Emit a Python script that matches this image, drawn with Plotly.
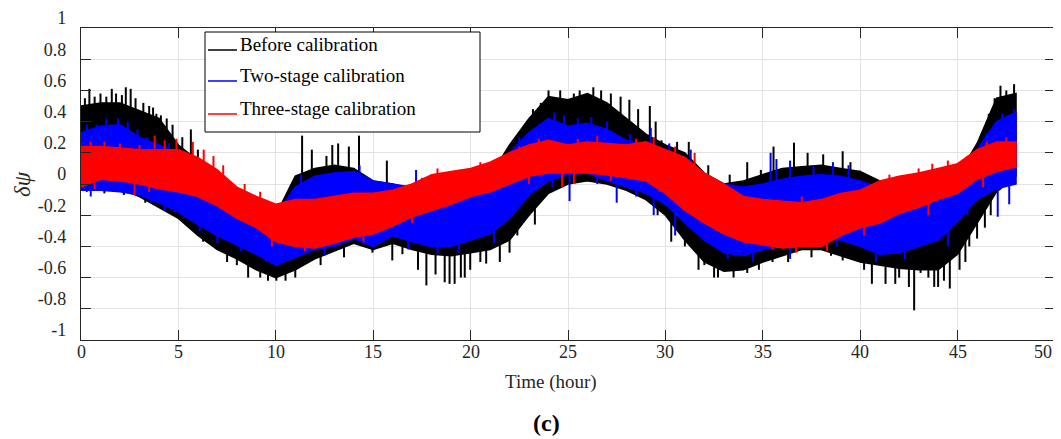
import numpy as np
import plotly.graph_objects as go

# ---------------- data ----------------
hours = list(range(0, 49))

before_upper = [0.50, 0.52, 0.52, 0.47, 0.42, 0.25, 0.15, 0.02, -0.08, -0.15,
                -0.20, 0.05, 0.10, 0.12, 0.10, 0.02, 0.00, -0.03, -0.06, -0.03,
                0.00, 0.05, 0.25, 0.42, 0.56, 0.54, 0.58, 0.52, 0.42, 0.32,
                0.25, 0.20, 0.07, 0.00, 0.02, 0.06, 0.10, 0.11, 0.12, 0.10,
                0.08, 0.02, 0.00, 0.00, 0.00, 0.05, 0.26, 0.55, 0.58]
before_lower = [0.00, -0.02, -0.03, -0.08, -0.15, -0.22, -0.33, -0.42, -0.48, -0.55,
                -0.60, -0.55, -0.48, -0.43, -0.38, -0.42, -0.38, -0.42, -0.45, -0.46,
                -0.44, -0.42, -0.36, -0.20, -0.06, 0.00, 0.02, 0.00, -0.04, -0.10,
                -0.20, -0.36, -0.50, -0.56, -0.55, -0.50, -0.46, -0.42, -0.42, -0.46,
                -0.50, -0.52, -0.54, -0.55, -0.55, -0.45, -0.25, -0.05, 0.05]

two_upper = [0.33, 0.37, 0.38, 0.30, 0.25, 0.20, 0.10, 0.00, -0.10, -0.18,
             -0.20, -0.02, 0.05, 0.07, 0.08, 0.02, 0.00, -0.02, 0.03, 0.06,
             0.06, 0.10, 0.20, 0.33, 0.42, 0.37, 0.39, 0.35, 0.28, 0.25,
             0.22, 0.17, 0.06, 0.00, -0.02, 0.00, 0.03, 0.05, 0.06, 0.05,
             0.02, -0.02, -0.07, -0.08, -0.06, -0.02, 0.22, 0.40, 0.46]
two_lower = [-0.04, -0.04, -0.05, -0.07, -0.12, -0.18, -0.26, -0.33, -0.39, -0.45,
             -0.52, -0.47, -0.42, -0.40, -0.35, -0.40, -0.33, -0.37, -0.40, -0.40,
             -0.36, -0.32, -0.22, -0.07, 0.02, 0.06, 0.07, 0.02, -0.02, -0.06,
             -0.13, -0.25, -0.36, -0.44, -0.46, -0.42, -0.40, -0.36, -0.32, -0.36,
             -0.40, -0.45, -0.44, -0.40, -0.36, -0.24, -0.10, -0.03, 0.00]

three_upper = [0.24, 0.24, 0.23, 0.22, 0.22, 0.22, 0.17, 0.09, -0.02, -0.08,
               -0.13, -0.10, -0.10, -0.08, -0.06, -0.06, -0.04, 0.00, 0.06, 0.08,
               0.10, 0.14, 0.20, 0.25, 0.28, 0.25, 0.27, 0.26, 0.25, 0.27,
               0.22, 0.17, 0.07, 0.00, -0.08, -0.10, -0.11, -0.12, -0.10, -0.06,
               -0.04, 0.02, 0.05, 0.07, 0.10, 0.13, 0.22, 0.27, 0.27]
three_lower = [-0.02, 0.03, 0.02, 0.00, -0.03, -0.05, -0.08, -0.14, -0.22, -0.28,
               -0.37, -0.40, -0.41, -0.38, -0.34, -0.32, -0.27, -0.21, -0.17, -0.13,
               -0.08, -0.05, 0.00, 0.05, 0.07, 0.07, 0.07, 0.06, 0.04, 0.02,
               -0.06, -0.17, -0.25, -0.32, -0.37, -0.39, -0.41, -0.40, -0.40, -0.33,
               -0.28, -0.25, -0.19, -0.15, -0.10, -0.06, 0.03, 0.08, 0.11]

# isolated spikes (time in hours, tip value)
before_spike_t = [0.43, 1.58, 2.3, 2.55, 3.7, 3.87, 5.64, 11.35, 11.85, 12.6, 12.9, 13.2,
                  13.75, 14.27, 15.7, 27.7, 28.15, 29.2, 29.8, 31.2, 34.2, 34.9, 35.55,
                  36.6, 37.3, 38.1, 39.1, 39.5, 39.97, 47.2, 47.9,
                  0.2, 0.7, 1.0, 1.3, 1.8, 2.1, 2.8, 3.2, 3.5, 4.1, 4.4, 4.7, 5.2, 6.0,
                  6.6, 7.2, 23.2, 23.6, 24.0, 24.6, 25.3, 25.6, 26.3, 26.7, 27.2, 28.6,
                  29.5, 30.6, 32.2, 33.3, 46.2, 46.6, 46.9, 47.5,
                  5.5, 6.27, 6.45, 8.58, 9.2, 10.03, 11.78, 14.96, 15.98, 17.3, 17.73,
                  18.67, 18.92, 19.18, 19.7, 19.98, 20.5, 20.8, 22.0, 22.4, 22.85, 30.3,
                  31.7, 32.5, 32.7, 33.5, 34.2, 37.5, 39.1, 40.6, 41.3, 41.8, 42.5,
                  42.77, 43.1, 43.8, 44.0, 44.6, 45.1, 45.6, 46.4,
                  0.3, 1.2, 2.2, 3.3, 7.5, 8.0, 9.6, 10.5, 11.0, 12.3, 13.5, 16.5, 18.2,
                  19.5, 21.5, 23.3, 29.6, 31.0, 32.0, 34.8, 35.5, 36.3, 38.5, 40.2, 42.0,
                  43.5, 44.3, 45.4, 46.0, 46.7]
before_spike_v = [0.61, 0.61, 0.62, 0.61, 0.49, 0.45, 0.35, 0.31, 0.22, 0.18, 0.25, 0.26,
                  0.24, 0.31, 0.15, 0.56, 0.54, 0.50, 0.28, 0.27, 0.14, 0.09, 0.24,
                  0.265, 0.20, 0.19, 0.21, 0.14, 0.085, 0.63, 0.64,
                  0.55, 0.56, 0.58, 0.56, 0.58, 0.57, 0.55, 0.52, 0.50, 0.44, 0.42, 0.38,
                  0.30, 0.22, 0.12, 0.05, 0.48, 0.52, 0.60, 0.60, 0.58, 0.60, 0.62, 0.60,
                  0.58, 0.48, 0.40, 0.27, 0.12, 0.06, 0.32, 0.45, 0.55, 0.60,
                  -0.26, -0.37, -0.36, -0.60, -0.60, -0.62, -0.49, -0.44, -0.49, -0.55, -0.65,
                  -0.63, -0.64, -0.64, -0.60, -0.55, -0.50, -0.51, -0.44, -0.33, -0.21, -0.37,
                  -0.55, -0.60, -0.60, -0.60, -0.57, -0.47, -0.49, -0.64, -0.64, -0.64, -0.66,
                  -0.81, -0.57, -0.66, -0.66, -0.67, -0.55, -0.40, -0.28,
                  -0.05, -0.06, -0.07, -0.12, -0.50, -0.52, -0.62, -0.62, -0.60, -0.52,
                  -0.47, -0.45, -0.58, -0.60, -0.50, -0.26, -0.20, -0.40, -0.52, -0.55,
                  -0.50, -0.50, -0.46, -0.55, -0.60, -0.60, -0.62, -0.50, -0.35, -0.20]

two_spike_t = [1.9, 11.3, 14.3, 17.2, 24.3, 29.25, 35.4, 35.7, 36.4,
               0.3, 0.8, 1.3, 2.4, 2.9, 3.4, 4.5, 22.5, 23.5, 24.8, 25.5, 26.2, 27.0,
               28.2, 30.2, 31.3, 37.6, 38.6, 39.4, 46.5, 47.3, 47.9,
               1.9, 2.86, 4.3, 4.8, 6.1, 25.08, 27.5, 29.4, 30.5, 36.4, 47.06, 47.65,
               0.5, 3.6, 5.3, 7.0, 8.2, 9.5, 12.5, 16.8, 18.3, 19.4, 21.2, 24.2, 26.5,
               28.5, 31.8, 33.2, 34.5, 38.8, 40.8, 42.3, 44.5, 45.5]
two_spike_v = [0.42, 0.06, 0.12, 0.09, 0.46, 0.36, 0.20, 0.16, 0.15,
               0.38, 0.38, 0.42, 0.40, 0.35, 0.30, 0.26, 0.30, 0.38, 0.44, 0.42, 0.43, 0.40,
               0.32, 0.26, 0.22, 0.12, 0.14, 0.12, 0.32, 0.45, 0.48,
               -0.05, -0.06, -0.17, -0.18, -0.30, -0.11, -0.12, -0.20, -0.33, -0.48, -0.21, -0.13,
               -0.08, -0.12, -0.22, -0.38, -0.43, -0.50, -0.46, -0.42, -0.45, -0.44, -0.38,
               -0.02, 0.00, -0.08, -0.33, -0.48, -0.50, -0.40, -0.50, -0.48, -0.40, -0.20]

three_spike_t = [3.78, 5.74, 29.4, 43.7,
                 0.5, 1.2, 2.0, 3.0, 4.3, 4.9, 6.3, 6.8, 7.3, 8.4, 9.2, 17.5, 18.3, 20.5,
                 22.5, 23.5, 25.5, 26.5, 28.5, 30.5, 31.5, 37.0, 41.5, 43.0, 44.5, 45.5,
                 46.5, 47.5,
                 2.75, 24.7, 0.7, 3.5, 9.8, 11.5, 14.5, 17.0, 23.0, 25.3, 27.2, 29.7,
                 32.6, 35.5, 36.7, 38.3, 40.2, 43.5, 46.3]
three_spike_v = [0.31, 0.27, 0.30, 0.13,
                 0.27, 0.27, 0.26, 0.25, 0.28, 0.29, 0.22, 0.18, 0.12, 0.00, -0.05, 0.04,
                 0.10, 0.14, 0.24, 0.29, 0.29, 0.31, 0.29, 0.24, 0.20, -0.08, 0.06, 0.10,
                 0.15, 0.18, 0.27, 0.30,
                 -0.07, -0.02, -0.03, -0.05, -0.40, -0.43, -0.37, -0.25, 0.00, 0.00, 0.02,
                 -0.05, -0.30, -0.42, -0.44, -0.43, -0.33, -0.20, -0.02]

series_names = ["Before calibration", "Two-stage calibration", "Three-stage calibration"]
series_colors = ["#000000", "#0000ff", "#ff0000"]

x_ticks = [0, 5, 10, 15, 20, 25, 30, 35, 40, 45, 50]
x_ticktext = ["0", "5", "10", "15", "20", "25", "30", "35", "40", "45", "50"]
y_ticks = [-1, -0.8, -0.6, -0.4, -0.2, 0, 0.2, 0.4, 0.6, 0.8, 1]
y_ticktext = ["-1", "-0.8", "-0.6", "-0.4", "-0.2", "0", "0.2", "0.4", "0.6", "0.8", "1"]

# ---------------- figure ----------------
fig = go.Figure()
FONT = "Liberation Serif"
TXT = "#262626"

bands = [(before_upper, before_lower, before_spike_t, before_spike_v),
         (two_upper, two_lower, two_spike_t, two_spike_v),
         (three_upper, three_lower, three_spike_t, three_spike_v)]

t_arr = np.array(hours, dtype=float)
for (up, lo, st, sv), name, col in zip(bands, series_names, series_colors):
    up = np.array(up)
    lo = np.array(lo)
    fig.add_trace(go.Scatter(
        x=list(t_arr) + list(t_arr[::-1]),
        y=list(up) + list(lo[::-1]),
        fill="toself", fillcolor=col, mode="lines",
        line=dict(color=col, width=1.5), showlegend=False, hoverinfo="skip"))
    mid = (up + lo) / 2.0
    xs, ys = [], []
    for t, v in zip(st, sv):
        base = float(np.interp(t, t_arr, mid))
        xs += [t, t, None]
        ys += [base, v, None]
    fig.add_trace(go.Scatter(x=xs, y=ys, mode="lines",
                             line=dict(color=col, width=2),
                             showlegend=False, hoverinfo="skip"))

# page offset: the html body adds an 8 px margin at the top-left
OFF = 8
W, H = 1061 - OFF, 439 - OFF
# plot-area edges in screen pixels
L, R, T, B = 81, 1055, 28, 340
def px(x):
    return (x - L) / (R - L)
def py(y):
    return (B - y) / (B - T)

shapes = [dict(type="rect", xref="paper", yref="paper",
               x0=px(205), x1=px(480), y0=py(132), y1=py(32),
               line=dict(color="#000000", width=1), fillcolor="white", layer="above")]
annotations = []
rows = [50, 81, 114]
for name, col, yb in zip(series_names, series_colors, rows):
    shapes.append(dict(type="line", xref="paper", yref="paper",
                       x0=px(208), x1=px(237), y0=py(yb), y1=py(yb),
                       line=dict(color=col, width=1.5), layer="above"))
    annotations.append(dict(text=name, xref="paper", yref="paper",
                            x=px(238), y=py(yb - 6), xanchor="left", yanchor="middle",
                            showarrow=False, font=dict(family=FONT, size=19, color="#000000")))

# x tick labels (placed on the x scale; last one nudged to stay inside the page)
for v, lab in zip(x_ticks, x_ticktext):
    annotations.append(dict(text=lab, xref="x", yref="paper", x=v, y=py(352),
                            xanchor="center", yanchor="middle", showarrow=False,
                            xshift=-12 if v == 50 else 0,
                            font=dict(family=FONT, size=18, color=TXT)))

annotations.append(dict(text="Time (hour)", xref="paper", yref="paper",
                        x=px(551), y=py(382), xanchor="center", yanchor="middle",
                        showarrow=False, font=dict(family=FONT, size=19, color=TXT)))
annotations.append(dict(text="<b>(c)</b>", xref="paper", yref="paper",
                        x=px(546), y=py(423), xanchor="center", yanchor="middle",
                        showarrow=False, font=dict(family=FONT, size=24, color="#000000")))
annotations.append(dict(text="<i>δψ</i>", xref="paper", yref="paper",
                        x=px(22), y=py(184), xanchor="center", yanchor="middle",
                        textangle=-90, showarrow=False,
                        font=dict(family=FONT, size=23, color=TXT)))

fig.update_layout(
    width=W, height=H,
    margin=dict(l=L - OFF, r=W - (R - OFF), t=T - OFF, b=H - (B - OFF), pad=0,
                autoexpand=False),
    paper_bgcolor="white", plot_bgcolor="white",
    showlegend=False, shapes=shapes, annotations=annotations,
    font=dict(family=FONT, size=18, color=TXT),
)
fig.update_xaxes(range=[0, 50], tickvals=x_ticks, ticks="inside", ticklen=10,
                 tickcolor=TXT, linecolor=TXT, linewidth=1.2, mirror="allticks",
                 showline=True, showgrid=True, gridcolor="#e3e3e3", gridwidth=1,
                 zeroline=False, showticklabels=False, automargin=False)
fig.update_yaxes(range=[-1, 1], tickvals=y_ticks, ticktext=y_ticktext, ticks="inside",
                 ticklen=10, tickcolor=TXT, linecolor=TXT, linewidth=1.2, mirror="allticks",
                 showline=True, showgrid=True, gridcolor="#e3e3e3", gridwidth=1,
                 zeroline=False, ticklabelshift=-10, ticklabelstandoff=10,
                 automargin=False,
                 tickfont=dict(family=FONT, size=18, color=TXT))

fig.write_html("out.html")
